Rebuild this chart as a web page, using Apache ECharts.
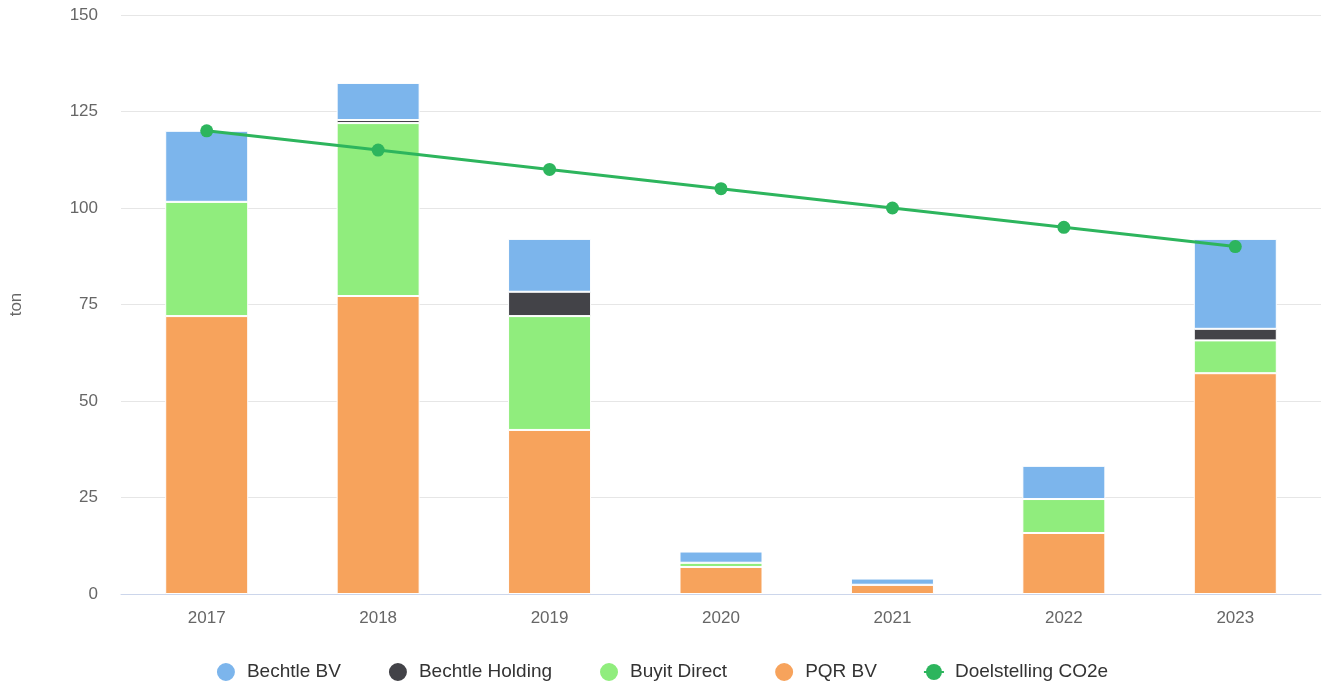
<!DOCTYPE html>
<html><head><meta charset="utf-8">
<script src="https://cdn.jsdelivr.net/npm/echarts@6/dist/echarts.min.js"></script>
<style>html,body{margin:0;padding:0;background:#fff}#c{width:1323px;height:686px}</style>
</head><body><div id="c"></div>
<script>
const categories = ['2017','2018','2019','2020','2021','2022','2023'];
const bechtleBV = [18.4, 9.6, 13.7, 2.9, 1.6, 8.6, 23.3];
const bechtleHolding = [0, 0.8, 6.3, 0, 0, 0, 3.0];
const buyitDirect = [29.6, 44.8, 29.5, 1.1, 0, 8.8, 8.5];
const pqrBV = [72.0, 77.2, 42.5, 7.0, 2.4, 15.8, 57.2];
const doelstelling = [120, 115, 110, 105, 100, 95, 90];
const yTicks = {min: 0, max: 150, interval: 25};

const chart = echarts.init(document.getElementById('c'));
const barBase = {type: 'bar', stack: 'total', barWidth: 83,
  itemStyle: {borderColor: '#ffffff', borderWidth: 1}};
chart.setOption({
  animation: false,
  textStyle: {fontFamily: 'Liberation Sans, Arial, sans-serif'},
  grid: {left: 120, right: 2, top: 15, bottom: 92},
  legend: {
    top: 656, left: 'center', itemGap: 46, itemWidth: 20, itemHeight: 20,
    textStyle: {fontSize: 19, color: '#333333', padding: [0, 0, 0, 6]},
    data: [
      {name: 'Bechtle BV', icon: 'circle'},
      {name: 'Bechtle Holding', icon: 'circle'},
      {name: 'Buyit Direct', icon: 'circle'},
      {name: 'PQR BV', icon: 'circle'},
      {name: 'Doelstelling CO2e'}
    ]
  },
  xAxis: {
    type: 'category', data: categories,
    axisLine: {lineStyle: {color: '#ccd6eb'}},
    axisTick: {show: false},
    axisLabel: {color: '#666666', fontSize: 17, margin: 16}
  },
  yAxis: {
    type: 'value', min: yTicks.min, max: yTicks.max, interval: yTicks.interval,
    name: 'ton', nameLocation: 'middle', nameGap: 96, nameRotate: 90,
    nameTextStyle: {color: '#666666', fontSize: 17},
    axisLabel: {color: '#666666', fontSize: 17, margin: 23},
    splitLine: {lineStyle: {color: '#e6e6e6'}},
    axisLine: {show: false}, axisTick: {show: false}
  },
  series: [
    Object.assign({}, barBase, {name: 'Bechtle BV', data: bechtleBV, itemStyle: Object.assign({}, barBase.itemStyle, {color: '#7cb5ec'})}),
    Object.assign({}, barBase, {name: 'Bechtle Holding', data: bechtleHolding, itemStyle: Object.assign({}, barBase.itemStyle, {color: '#434348'})}),
    Object.assign({}, barBase, {name: 'Buyit Direct', data: buyitDirect, itemStyle: Object.assign({}, barBase.itemStyle, {color: '#90ed7d'})}),
    Object.assign({}, barBase, {name: 'PQR BV', data: pqrBV, itemStyle: Object.assign({}, barBase.itemStyle, {color: '#f7a35c'})})
  ].reverse().concat([{
    name: 'Doelstelling CO2e', type: 'line', data: doelstelling, z: 5,
    symbol: 'circle', symbolSize: 13,
    lineStyle: {color: '#2db55d', width: 3},
    itemStyle: {color: '#2db55d'}
  }])
});
</script></body></html>
